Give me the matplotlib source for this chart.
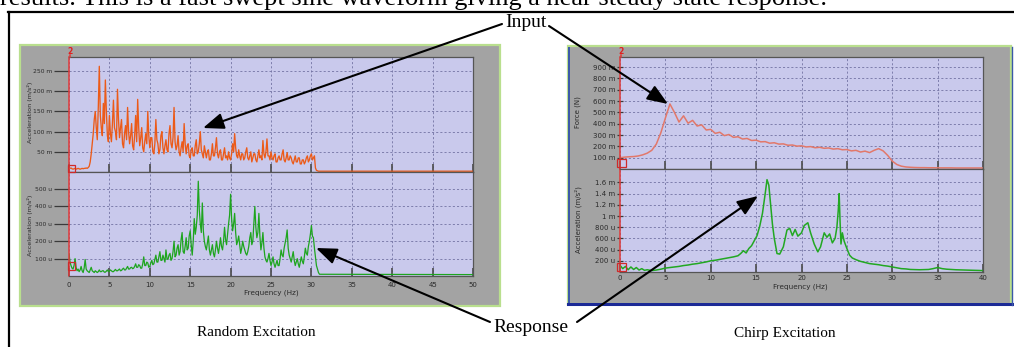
import numpy as np
import matplotlib
matplotlib.use('Agg')
import matplotlib.pyplot as plt
from matplotlib.patches import Rectangle, FancyArrowPatch

# ---------------- data ----------------
# Random excitation, input acceleration (m units), 0.125 Hz bins from 0 Hz
rand_in_step = 0.125
rand_in_vals = [8, 9, 10, 8, 7, 8, 9, 7,
                8, 9, 8, 7, 8, 9, 8, 9,
                9, 10, 9, 11, 14, 25, 45, 70,
                95, 130, 150, 110, 80, 160, 262, 140,
                110, 90, 170, 120, 228, 150, 90, 75,
                140, 95, 75, 120, 178, 110, 100, 80,
                205, 130, 85, 110, 130, 70, 60, 95,
                115, 80, 160, 100, 70, 90, 120, 65,
                55, 90, 140, 75, 180, 110, 65, 85,
                110, 60, 50, 75, 95, 70, 150, 90,
                60, 85, 85, 50, 45, 70, 130, 80,
                70, 45, 55, 90, 100, 60, 45, 65,
                80, 55, 50, 95, 115, 70, 60, 85,
                160, 75, 55, 65, 90, 50, 40, 60,
                75, 50, 120, 70, 45, 65, 70, 40,
                35, 55, 60, 40, 40, 65, 80, 45,
                50, 70, 100, 55, 45, 35, 65, 50,
                35, 50, 55, 30, 30, 45, 70, 40,
                40, 60, 85, 45, 35, 50, 55, 30,
                30, 45, 60, 35, 40, 30, 50, 35,
                30, 45, 70, 50, 95, 60, 40, 35,
                55, 40, 30, 45, 45, 30, 35, 50,
                60, 35, 30, 40, 50, 25, 35, 45,
                45, 30, 25, 40, 55, 35, 40, 30,
                78, 45, 35, 50, 82, 40, 40, 30,
                50, 35, 30, 40, 45, 25, 25, 35,
                40, 30, 30, 45, 55, 30, 25, 35,
                48, 30, 30, 40, 35, 25, 20, 30,
                40, 25, 25, 35, 35, 20, 20, 30,
                30, 20, 25, 35, 40, 25, 30, 40,
                45, 30, 35, 40, 10, 4, 3, 2,
                2]
rand_in_tail_f = [50.0]
rand_in_tail_v = [2]

# Random excitation, response acceleration (u units), 0.125 Hz bins from 0 Hz
rand_out_step = 0.125
rand_out_vals = [130, 80, 60, 45, 40, 60, 100, 50,
                 30, 40, 25, 35, 55, 30, 20, 45,
                 95, 40, 30, 25, 20, 35, 50, 30,
                 25, 20, 30, 25, 20, 25, 35, 25,
                 25, 30, 30, 22, 22, 28, 35, 25,
                 28, 35, 30, 25, 25, 32, 38, 30,
                 30, 35, 40, 30, 32, 40, 45, 35,
                 35, 45, 55, 40, 40, 48, 50, 42,
                 45, 55, 70, 50, 50, 65, 60, 45,
                 45, 70, 110, 60, 60, 80, 75, 50,
                 55, 75, 90, 65, 70, 95, 120, 80,
                 80, 110, 140, 90, 90, 120, 100, 80,
                 150, 100, 95, 120, 130, 90, 100, 140,
                 200, 110, 120, 160, 180, 120, 140, 210,
                 250, 140, 130, 170, 220, 150, 160, 230,
                 260, 180, 120, 200, 330, 240, 280, 350,
                 545, 380, 300, 250, 420, 260, 200, 170,
                 150, 190, 230, 150, 120, 150, 180, 130,
                 110, 150, 200, 160, 130, 170, 220, 170,
                 150, 200, 280, 210, 180, 240, 300, 350,
                 470, 330, 260, 300, 360, 250, 180, 200,
                 230, 180, 130, 160, 200, 170, 150, 130,
                 120, 140, 170, 220, 250, 180, 200, 300,
                 400, 280, 220, 250, 360, 230, 150, 190,
                 250, 160, 110, 90, 80, 100, 130, 90,
                 60, 80, 110, 70, 50, 70, 90, 60,
                 60, 100, 150, 120, 110, 160, 190, 220,
                 265, 160, 120, 100, 80, 110, 140, 90,
                 60, 80, 100, 70, 50, 80, 110, 85,
                 70, 110, 160, 130, 120, 170, 200, 240,
                 290, 230, 220, 160, 110, 60, 40, 20,
                 10]
rand_out_tail_f = [50.0]
rand_out_tail_v = [8]

# Chirp excitation, input force (m units), 0.5 Hz bins from 0 Hz
chirp_in_step = 0.5
chirp_in_vals = [100, 105, 108, 110, 115, 125, 140, 165, 220, 320,
                 450, 575, 500, 415, 470, 405, 430, 380, 390, 345,
                 350, 315, 325, 295, 305, 280, 285, 265, 270, 252,
                 255, 240, 242, 228, 232, 220, 222, 210, 212, 202,
                 205, 195, 198, 188, 192, 183, 186, 176, 180, 170,
                 172, 160, 165, 150, 158, 145, 165, 180, 160, 120,
                 70, 40, 25, 18, 15, 13, 12, 12, 11, 11,
                 10, 10, 10, 10, 9, 9, 9, 9, 9, 9, 9]

# Chirp excitation, response acceleration (u units)
chirp_out_f = [0, 0.3, 0.6, 0.9, 1.2, 1.5, 1.8, 2.1, 2.4, 2.7,
               3.0, 3.5, 4, 4.5, 5, 5.5, 6, 6.5, 7, 7.5,
               8, 8.5, 9, 9.5, 10, 10.5, 11, 11.5, 12, 12.5,
               13, 13.3, 13.6, 13.9, 14.2, 14.5, 14.8, 15.1, 15.4, 15.7,
               16.0, 16.2, 16.4, 16.6, 16.8, 17.0, 17.3, 17.6, 18.0, 18.4,
               18.7, 19.0, 19.3, 19.6, 20.0, 20.3, 20.7, 21.0, 21.4, 21.8,
               22.1, 22.5, 22.8, 23.1, 23.4, 23.7, 23.9, 24.05, 24.15, 24.25,
               24.35, 24.5, 24.7, 25.0, 25.3, 25.6, 26.0, 26.5, 27, 27.5,
               28, 28.5, 29, 29.5, 30, 30.5, 31, 31.5, 32, 33,
               34, 34.5, 35, 35.5, 36, 37, 38, 39, 40]
chirp_out_v = [120, 60, 100, 40, 90, 45, 80, 35, 60, 30,
               40, 25, 35, 50, 70, 80, 90, 100, 115, 125,
               140, 150, 165, 180, 200, 210, 225, 240, 255, 270,
               290, 330, 380, 340, 420, 470, 560, 650, 820, 1050,
               1400, 1650, 1550, 1200, 850, 600, 330, 320, 450, 750,
               780, 650, 760, 640, 700, 830, 880, 700, 500, 360,
               450, 700, 620, 680, 520, 600, 800, 1100, 1400, 900,
               500, 700, 550, 420, 300, 250, 220, 190, 170, 150,
               140, 130, 115, 105, 90, 75, 60, 55, 45, 40,
               45, 60, 80, 60, 50, 40, 35, 30, 25]

left_yticks_top = [50, 100, 150, 200, 250]
left_ylabels_top = ["50 m", "100 m", "150 m", "200 m", "250 m"]
left_yticks_bot = [100, 200, 300, 400, 500]
left_ylabels_bot = ["100 u", "200 u", "300 u", "400 u", "500 u"]
left_xticks = [0, 5, 10, 15, 20, 25, 30, 35, 40, 45, 50]
right_yticks_top = [100, 200, 300, 400, 500, 600, 700, 800, 900]
right_ylabels_top = ["100 m", "200 m", "300 m", "400 m", "500 m", "600 m",
                     "700 m", "800 m", "900 m"]
right_yticks_bot = [200, 400, 600, 800, 1000, 1200, 1400, 1600]
right_ylabels_bot = ["200 u", "400 u", "600 u", "800 u", "1 m", "1.2 m",
                     "1.4 m", "1.6 m"]
right_xticks = [0, 5, 10, 15, 20, 25, 30, 35, 40]

top_sentence = "results. This is a fast swept sine waveform giving a near steady state response."

# ---------------- figure ----------------
W, H = 1014, 347
fig = plt.figure(figsize=(W / 100, H / 100), dpi=100)
fig.patch.set_facecolor('white')


def px_axes(x0, y0, x1, y1, **kw):
    return fig.add_axes([x0 / W, 1 - y1 / H, (x1 - x0) / W, (y1 - y0) / H], **kw)


bg = px_axes(0, 0, W, H, zorder=0)
bg.set_xlim(0, W)
bg.set_ylim(H, 0)
bg.axis('off')

GRAY = '#a3a3a3'
LAV = '#c9c9ec'
# left panel
bg.add_patch(Rectangle((20, 45), 480, 261, facecolor=GRAY, edgecolor='#b9df8e', lw=1.6))
# right panel
bg.add_patch(Rectangle((568, 46), 443, 258, facecolor=GRAY, edgecolor='#b9df8e', lw=1.6))
bg.plot([569, 569], [48, 303], color='#3a58a8', lw=1.4)
bg.plot([568, 1012], [304, 304], color='#1c2a96', lw=2.2)
bg.plot([1011.5, 1011.5], [47, 305], color='#3a58a8', lw=1.0)

TICKC = '#3a3a3a'
GRIDC = '#7272a2'


def make_plot(box, xlim, ylim, yticks, ylabels, xticks, xlabels, tick_len, tick_dir,
              ylsize):
    ax = px_axes(*box, zorder=1)
    ax.set_facecolor(LAV)
    ax.set_xlim(*xlim)
    ax.set_ylim(*ylim)
    ax.set_yticks(yticks)
    ax.set_yticklabels(ylabels)
    ax.set_xticks(xticks)
    if xlabels:
        ax.set_xticklabels([str(t) for t in xticks])
    else:
        ax.set_xticklabels([])
    ax.grid(True, color=GRIDC, lw=0.6, ls=(0, (2.5, 2.5)))
    ax.tick_params(axis='y', direction=tick_dir, length=tick_len, width=0.9,
                   color=TICKC, labelsize=ylsize, labelcolor='#2a2a2a', pad=1)
    ax.tick_params(axis='x', direction='in', length=6, width=1.2,
                   color='#4a4a4a', labelsize=5.0, labelcolor='#2a2a2a', pad=5)
    for s in ['top', 'right', 'bottom']:
        ax.spines[s].set_color('#555555')
        ax.spines[s].set_linewidth(0.9)
    ax.spines['left'].set_color('#e03a3a')
    ax.spines['left'].set_linewidth(1.1)
    return ax


# left top
ax1 = make_plot((69, 57, 473, 172), (0, 50), (0, 285), left_yticks_top, left_ylabels_top,
                left_xticks, False, 11, 'out', 4.3)
f1 = np.arange(len(rand_in_vals)) * rand_in_step
ax1.plot(list(f1) + rand_in_tail_f, rand_in_vals + rand_in_tail_v, color='#ec5a18', lw=0.95)

# left bottom
ax2 = make_plot((69, 172, 473, 276), (0, 50), (0, 598), left_yticks_bot, left_ylabels_bot,
                left_xticks, True, 11, 'out', 4.3)
f2 = np.arange(len(rand_out_vals)) * rand_out_step
ax2.plot(list(f2) + rand_out_tail_f, rand_out_vals + rand_out_tail_v, color='#1ea51e', lw=0.9)
ax2.tick_params(axis='x', pad=4)

# right top
ax3 = make_plot((620, 57, 983, 169), (0, 40), (0, 990), right_yticks_top, right_ylabels_top,
                right_xticks, False, 5, 'inout', 5.0)
f3 = np.arange(len(chirp_in_vals)) * chirp_in_step
ax3.plot(f3, chirp_in_vals, color='#e2786a', lw=1.1)

# right bottom
ax4 = make_plot((620, 169, 983, 272), (0, 40), (0, 1840), right_yticks_bot, right_ylabels_bot,
                right_xticks, True, 5, 'inout', 5.0)
ax4.plot(chirp_out_f, chirp_out_v, color='#22a822', lw=1.1)
ax4.tick_params(axis='x', pad=2)

# ---------------- overlay: texts, arrows, decorations ----------------
ov = px_axes(0, 0, W, H, zorder=3)
ov.set_xlim(0, W)
ov.set_ylim(H, 0)
ov.axis('off')
ov.patch.set_alpha(0)

SERIF = 'Liberation Serif'
ov.text(827, 5, top_sentence, ha='right', va='baseline', fontsize=19, family=SERIF,
        color='black')
ov.plot([8, 1014], [11.5, 11.5], color='black', lw=1.6)
ov.plot([9, 9], [11.5, 347], color='black', lw=1.6)

ov.text(526, 22, "Input", ha='center', va='center', fontsize=14, family=SERIF)
ov.text(531, 327, "Response", ha='center', va='center', fontsize=14, family=SERIF)
ov.text(256, 333, "Random Excitation", ha='center', va='center', fontsize=11, family=SERIF)
ov.text(785, 333, "Chirp Excitation", ha='center', va='center', fontsize=11, family=SERIF)

arrows = [((502, 24), (203, 128)), ((549, 26), (668, 104)),
          ((490, 322), (316, 248)), ((577, 322), (758, 196))]
for (p0, p1) in arrows:
    ov.add_patch(FancyArrowPatch(p0, p1, arrowstyle='-|>,head_length=0.9,head_width=0.35',
                                 mutation_scale=14, lw=1.5, color='black',
                                 shrinkA=0, shrinkB=0))

SANS = 'DejaVu Sans'
ov.text(30, 112, "Acceleration (m/s²)", rotation=90, ha='center', va='center',
        fontsize=4.6, family=SANS, color='#2a2a2a')
ov.text(30, 225, "Acceleration (m/s²)", rotation=90, ha='center', va='center',
        fontsize=4.6, family=SANS, color='#2a2a2a')
ov.text(578, 112, "Force (N)", rotation=90, ha='center', va='center',
        fontsize=5.0, family=SANS, color='#2a2a2a')
ov.text(578, 220, "Acceleration (m/s²)", rotation=90, ha='center', va='center',
        fontsize=5.0, family=SANS, color='#2a2a2a')
ov.text(271, 293, "Frequency (Hz)", ha='center', va='center', fontsize=5.2,
        family=SANS, color='#2a2a2a')
ov.text(800, 287, "Frequency (Hz)", ha='center', va='center', fontsize=5.2,
        family=SANS, color='#2a2a2a')

for xr in [70, 621]:
    ov.text(xr, 51, "2", ha='center', va='center', fontsize=5.5, color='#e02020',
            fontweight='bold', family=SANS)
    ov.plot([xr - 0.5, xr - 0.5], [55, 57], color='#e03a3a', lw=1.1)

for (x0, y0, w, h) in [(68, 165, 7, 7), (68, 262, 7, 8), (617, 159, 9, 8), (617, 263, 9, 8)]:
    ov.add_patch(Rectangle((x0, y0), w, h, fill=False, edgecolor='#d02a2a', lw=0.9))

fig.savefig('out.png', dpi=100)
